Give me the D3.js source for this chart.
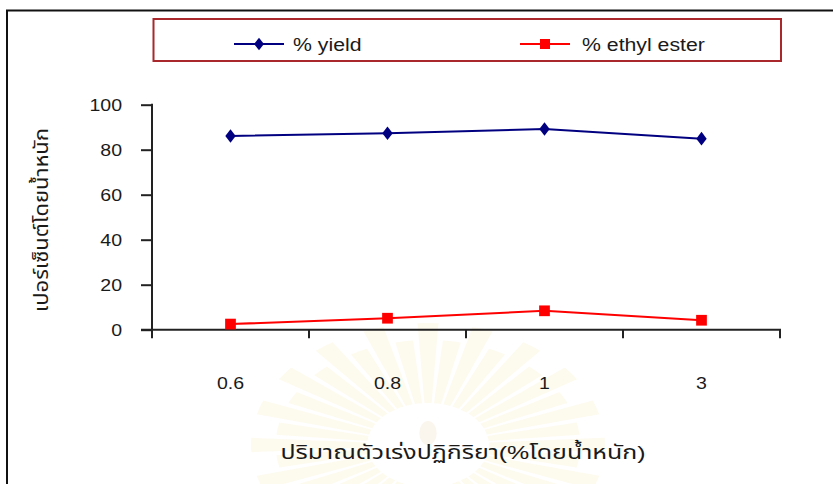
<!DOCTYPE html>
<html>
<head>
<meta charset="utf-8">
<script src="https://cdn.jsdelivr.net/npm/d3@7/dist/d3.min.js"></script>
<style>
  html, body { margin: 0; padding: 0; background: #fff; }
  svg { display: block; }
  text { font-family: "Liberation Sans", Arial, "Noto Sans Thai", "Noto Sans", sans-serif; fill: #1a1a1a; }
</style>
</head>
<body>
<svg id="chart" width="833" height="484"></svg>
<script>
// Catalyst amount (% by weight) on the category axis
const categories = ["0.6", "0.8", "1", "3"];
// Percent yield and percent ethyl ester for each catalyst amount
const yieldValues = [86.1, 87.3, 89.2, 84.9];
const esterValues = [2.5, 5.1, 8.4, 4.2];
const yTicks = [0, 20, 40, 60, 80, 100];
const seriesNames = ["% yield", "% ethyl ester"];
const xTitle = "ปริมาณตัวเร่งปฏิกิริยา(%โดยน้ำหนัก)";
const yTitle = "เปอร์เซ็นต์โดยน้ำหนัก";

const svg = d3.select("#chart");
const stretch = 1.15; // glyphs are drawn slightly wider than tall

const plot = { left: 152, right: 780, top: 104.7, bottom: 329.7 };

const x = d3.scaleBand().domain(categories).range([plot.left, plot.right]);
const y = d3.scaleLinear().domain([0, 100]).range([plot.bottom, plot.top]);

// Faint sunburst emblem printed behind the chart
const emblem = svg.append("g").attr("transform", "translate(428,445) scale(1.45,1)");
const rayCount = 40;
const rayArc = d3.arc();
d3.range(rayCount).forEach(i => {
  const a = (i / rayCount) * 2 * Math.PI;
  const w = Math.PI / rayCount * 0.75;
  emblem.append("path")
    .attr("d", rayArc({ innerRadius: 42, outerRadius: i % 2 ? 105 : 122, startAngle: a - w, endAngle: a + w }))
    .attr("fill", "#fbf2d4").attr("opacity", 0.4);
});
emblem.append("ellipse").attr("cx", 0).attr("cy", -12).attr("rx", 6).attr("ry", 12)
  .attr("fill", "#f5eddc").attr("opacity", 0.5);

// Outer frame (top and left edges)
svg.append("path")
  .attr("d", "M7,484 V10.5 H833")
  .attr("fill", "none").attr("stroke", "#111").attr("stroke-width", 2);

// Legend box
const legend = svg.append("g");
legend.append("rect")
  .attr("x", 153.5).attr("y", 19).attr("width", 627.5).attr("height", 42)
  .attr("fill", "#fff").attr("stroke", "#a8282c").attr("stroke-width", 2);

const legendItems = [
  { name: seriesNames[0], color: "#000080", shape: d3.symbolDiamond, size: 55, lx: 234, tx: 293 },
  { name: seriesNames[1], color: "#ff0000", shape: d3.symbolSquare, size: 100, lx: 520, tx: 582 }
];
legendItems.forEach(d => {
  legend.append("line")
    .attr("x1", d.lx).attr("x2", d.lx + 50).attr("y1", 44).attr("y2", 44)
    .attr("stroke", d.color).attr("stroke-width", 2);
  legend.append("path")
    .attr("d", d3.symbol(d.shape, d.size)())
    .attr("transform", `translate(${d.lx + 25},44)` + (d.shape === d3.symbolDiamond ? " scale(1.25,0.9)" : ""))
    .attr("fill", d.color);
  legend.append("text")
    .attr("transform", `translate(${d.tx},51) scale(${stretch},1)`)
    .attr("font-size", 18.5)
    .text(d.name);
});

// Y axis
const yAxis = svg.append("g")
  .attr("transform", `translate(${plot.left},0)`)
  .call(d3.axisLeft(y).tickValues(yTicks).tickSize(11).tickSizeOuter(0).tickPadding(0));
yAxis.select(".domain").remove();
yAxis.selectAll(".tick line").attr("stroke", "#222").attr("stroke-width", 2);
yAxis.selectAll(".tick text").remove();
yAxis.append("line")
  .attr("x1", 0).attr("x2", 0).attr("y1", plot.top - 1).attr("y2", plot.bottom + 8.5)
  .attr("stroke", "#222").attr("stroke-width", 2);
svg.append("g").selectAll("text").data(yTicks).join("text")
  .attr("transform", d => `translate(122,${y(d) + 6}) scale(${stretch},1)`)
  .attr("text-anchor", "end")
  .attr("font-size", 17)
  .text(d => d);

// X axis: line plus tick marks on the category boundaries
const boundaries = categories.map(c => x(c) + x.bandwidth());
const xAxis = svg.append("g");
xAxis.append("line")
  .attr("x1", plot.left - 11).attr("x2", plot.right + 1).attr("y1", plot.bottom).attr("y2", plot.bottom)
  .attr("stroke", "#222").attr("stroke-width", 2);
xAxis.selectAll("line.tick").data(boundaries).join("line")
  .attr("class", "tick")
  .attr("x1", d => d).attr("x2", d => d)
  .attr("y1", plot.bottom).attr("y2", plot.bottom + 8.5)
  .attr("stroke", "#222").attr("stroke-width", 2);
xAxis.selectAll("text").data(categories).join("text")
  .attr("transform", d => `translate(${x(d) + x.bandwidth() / 2},389) scale(${stretch},1)`)
  .attr("text-anchor", "middle")
  .attr("font-size", 17)
  .text(d => d);

// Axis titles
svg.append("text")
  .attr("x", 463).attr("y", 459)
  .attr("text-anchor", "middle")
  .attr("font-size", 19)
  .attr("textLength", 365).attr("lengthAdjust", "spacingAndGlyphs")
  .text(xTitle);
svg.append("text")
  .attr("transform", "translate(48,220) rotate(-90)")
  .attr("text-anchor", "middle")
  .attr("font-size", 19)
  .attr("textLength", 184).attr("lengthAdjust", "spacingAndGlyphs")
  .text(yTitle);

// Series lines and markers
const cx = c => x(c) + x.bandwidth() / 2;
const line = d3.line().x(d => cx(d.c)).y(d => y(d.v));
const series = [
  { values: yieldValues, color: "#000080", shape: d3.symbolDiamond, size: 60 },
  { values: esterValues, color: "#ff0000", shape: d3.symbolSquare, size: 115 }
];
series.forEach(s => {
  const pts = categories.map((c, i) => ({ c, v: s.values[i] }));
  svg.append("path").datum(pts)
    .attr("d", line)
    .attr("fill", "none").attr("stroke", s.color).attr("stroke-width", 2);
  svg.append("g").selectAll("path").data(pts).join("path")
    .attr("d", d3.symbol(s.shape, s.size)())
    .attr("transform", d => `translate(${cx(d.c)},${y(d.v)})` + (s.shape === d3.symbolDiamond ? " scale(1.25,0.95)" : ""))
    .attr("fill", s.color);
});
</script>
</body>
</html>
